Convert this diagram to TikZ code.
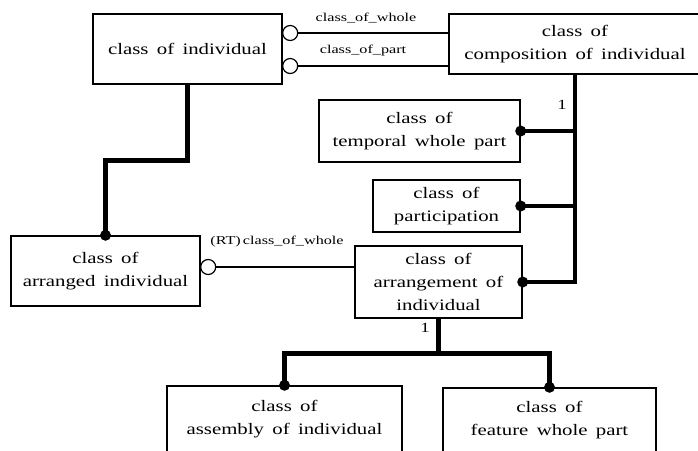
\documentclass[tikz,border=0pt]{standalone}
\usepackage{fontspec}
\setmainfont{Liberation Serif}[FakeStretch=1.3, WordSpace=1.6]
\newfontfamily\lblfont{Liberation Serif}[FakeStretch=1.35]
\begin{document}
\begin{tikzpicture}[x=1pt,y=-1pt,
  box/.style={draw, line width=1.4pt, rectangle, inner sep=0pt, align=center,
    font=\fontsize{16}{23}\selectfont},
  thin/.style={line width=1.2pt},
  thick5/.style={line width=4.8pt},
  dot/.style={fill=black, draw=none},
  ocirc/.style={draw, line width=1.2pt, fill=white},
  lbl/.style={font=\lblfont\fontsize{12}{14}\selectfont, inner sep=0pt},
  numlbl/.style={font=\lblfont\fontsize{14}{16}\selectfont, inner sep=0pt}
]
\useasboundingbox (0,0) rectangle (698,450);
\clip (0,0) rectangle (698,450);
% boxes
\node[box, minimum width=189pt, minimum height=70pt] (b1) at (187.5,49) {class of individual};
\node[box, minimum width=252pt, minimum height=60pt] (b2) at (575,44) {class of\\composition of individual};
\node[box, minimum width=201pt, minimum height=62pt] (b3) at (419.5,131) {class of\\temporal whole part};
\node[box, minimum width=147pt, minimum height=52pt] (b4) at (446.5,206) {class of\\participation};
\node[box, minimum width=189pt, minimum height=70pt] (b5) at (105.5,271) {class of\\arranged individual};
\node[box, minimum width=167pt, minimum height=72pt] (b6) at (438.5,282) {class of\\arrangement of\\individual};
\node[box, minimum width=235pt, minimum height=66pt] (b7) at (284.5,419) {class of\\assembly of individual};
\node[box, minimum width=213pt, minimum height=64pt] (b8) at (549.5,420) {class of\\feature whole part};

% thin connectors with open circles
\coordinate (c1) at ([xshift=7.5pt,yshift=16pt]b1.east);
\coordinate (c2) at ([xshift=7.5pt,yshift=-17pt]b1.east);
\coordinate (c3) at ([xshift=7.5pt,yshift=4pt]b5.east);
\draw[thin] (c1) -- (c1 -| b2.west);
\draw[thin] (c2) -- (c2 -| b2.west);
\draw[thin] (c3) -- (c3 -| b6.west);
\draw[ocirc] (c1) circle (7.5pt);
\draw[ocirc] (c2) circle (7.5pt);
\draw[ocirc] (c3) circle (7.5pt);

% labels
\node[lbl] (l1) at (366,18) {class\_of\_whole};
\node[lbl] (l2) at (363,51) {class\_of\_part};
\node[lbl] (l3) at (277,242) {(RT)\,class\_of\_whole};
\node[numlbl] (n1) at (562,105) {1};
\node[numlbl] (n2) at (425,328) {1};

% thick connectors
\coordinate (k1) at ([yshift=-76pt]b1.south);
\draw[thick5] (b1.south) -- (k1) -- (k1 -| b5.north) -- (b5.north);
\fill[dot] (b5.north) circle (5.5pt);

\draw[thick5] (b2.south) -- (b2.south |- b6.east) -- (b6.east);
\draw[thick5] (b3.east) -- (b3.east -| b2.south);
\draw[thick5] (b4.east) -- (b4.east -| b2.south);
\fill[dot] (b3.east) circle (5.5pt);
\fill[dot] (b4.east) circle (5.5pt);
\fill[dot] (b6.east) circle (5.5pt);

\coordinate (k2) at ([yshift=-35pt]b6.south);
\draw[thick5] (b6.south) -- (k2);
\draw[thick5] (b7.north) -- (b7.north |- k2) -- (b8.north |- k2) -- (b8.north);
\fill[dot] (b7.north) circle (5.5pt);
\fill[dot] (b8.north) circle (5.5pt);
\end{tikzpicture}
\end{document}
